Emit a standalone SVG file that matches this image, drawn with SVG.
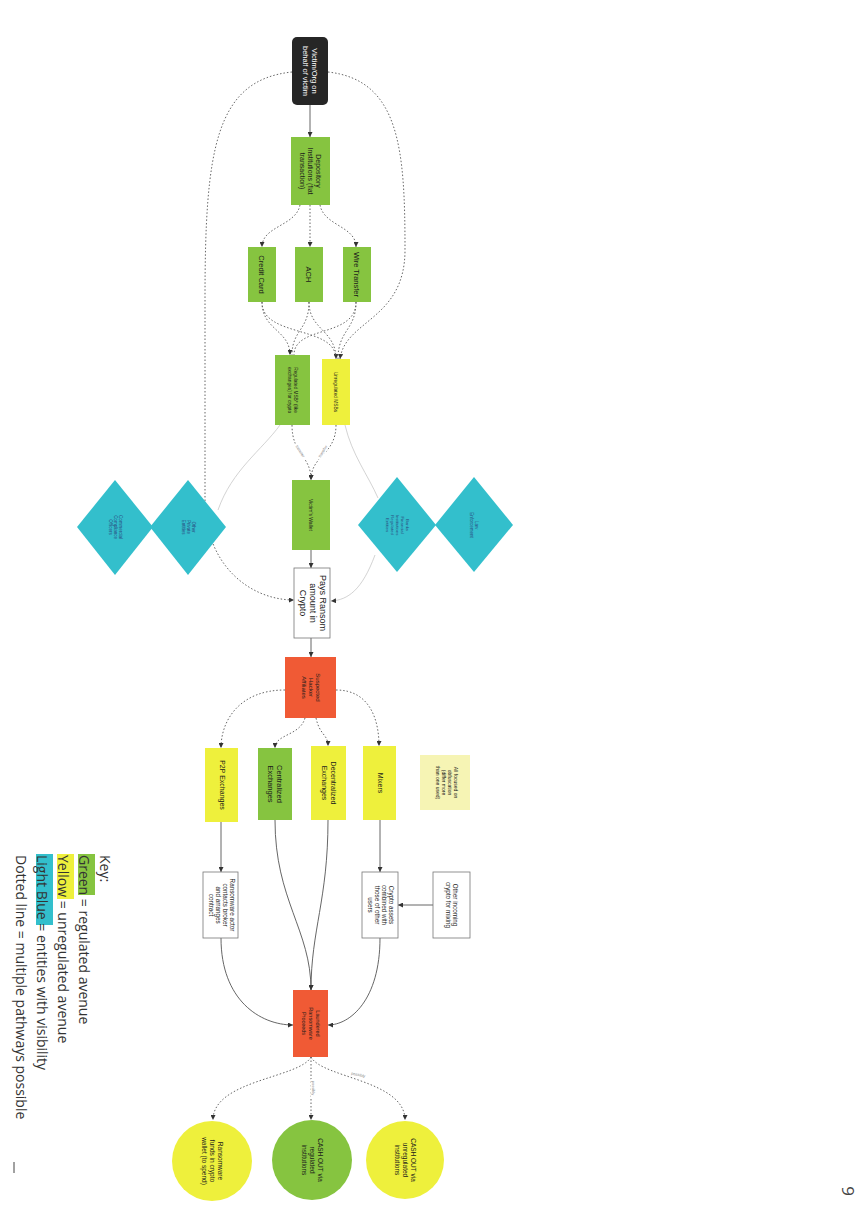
<svg xmlns="http://www.w3.org/2000/svg" width="860" height="1217" viewBox="0 0 860 1217">
<defs>
<style>
.t{font-family:"Liberation Sans",Arial,sans-serif;fill:#1a1a1a;text-anchor:middle}
.k{font-family:"Open Sans","Liberation Sans",sans-serif;font-size:14px;fill:#333}
.g{fill:#86c440}
.y{fill:#eef03c}
.c{fill:#33bfcc}
.r{fill:#f05a35}
.w{fill:#fff;stroke:#777;stroke-width:0.8}
.d{fill:none;stroke:#666;stroke-width:1;stroke-dasharray:1.5 2}
.s{fill:none;stroke:#555;stroke-width:0.9}
.l{fill:none;stroke:#c8c8c8;stroke-width:0.8}
.el{font-family:"Liberation Sans",Arial,sans-serif;font-size:4px;fill:#888;text-anchor:middle}
</style>
<marker id="a" viewBox="0 0 6 6" refX="6" refY="3" markerWidth="5" markerHeight="5" orient="auto" markerUnits="userSpaceOnUse"><path d="M0,0 L6,3 L0,6 z" fill="#333"/></marker>
</defs>
<rect width="860" height="1217" fill="#fff"/>

<g id="connectors">
<path class="s" d="M310,105 L310,137" marker-end="url(#a)"/>
<path class="d" d="M292,72 C215,80 205,150 205,300 L205,500 C205,565 250,600 294,600" marker-end="url(#a)"/>
<path class="d" d="M328,72 C400,80 405,150 405,250 C405,320 345,320 340,359" marker-end="url(#a)"/>
<path class="d" d="M300,205 C296,226 262,226 262,247" marker-end="url(#a)"/>
<path class="d" d="M310,205 L310,247" marker-end="url(#a)"/>
<path class="d" d="M320,205 C324,226 356,226 356,247" marker-end="url(#a)"/>
<path class="d" d="M262,302 C262,330 290,330 290,355" marker-end="url(#a)"/>
<path class="d" d="M262,302 C262,338 336,325 336,359" marker-end="url(#a)"/>
<path class="d" d="M309,302 C309,330 292,330 292,355"/>
<path class="d" d="M309,302 C309,330 336,330 336,359"/>
<path class="d" d="M356,302 C356,338 294,325 294,355"/>
<path class="d" d="M356,302 C356,330 338,330 338,359"/>
<path class="d" d="M292,425 C292,455 311,455 311,480" marker-end="url(#a)"/>
<path class="d" d="M336,425 C336,455 311,455 311,480" marker-end="url(#a)"/>
<path class="l" d="M280,425 C262,450 232,470 218,510"/>
<path class="l" d="M345,425 C352,455 368,475 378,498"/>
<path class="l" d="M375,555 C362,590 348,600 331,601" marker-end="url(#a)"/>
<path class="s" d="M311,550 L311,568" marker-end="url(#a)"/>
<path class="s" d="M311,638 L311,657" marker-end="url(#a)"/>
<path class="d" d="M285,690 C240,690 221,720 221,748" marker-end="url(#a)"/>
<path class="d" d="M336,690 C370,690 379,720 379,746" marker-end="url(#a)"/>
<path class="d" d="M305,718 C300,736 275,734 275,748" marker-end="url(#a)"/>
<path class="d" d="M316,718 C320,736 328,734 328,746" marker-end="url(#a)"/>
<path class="s" d="M275,820 C275,900 311,930 311,990" marker-end="url(#a)"/>
<path class="s" d="M328,820 C328,900 311,930 311,990" marker-end="url(#a)"/>
<path class="s" d="M221,822 L221,872" marker-end="url(#a)"/>
<path class="s" d="M380,820 L380,872" marker-end="url(#a)"/>
<path class="s" d="M433,905 L398,905" marker-end="url(#a)"/>
<path class="s" d="M221,938 C221,1000 260,1025 293,1025" marker-end="url(#a)"/>
<path class="s" d="M380,938 C380,1000 350,1025 328,1025" marker-end="url(#a)"/>
<path class="d" d="M311,1057 C300,1078 213,1080 213,1120" marker-end="url(#a)"/>
<path class="d" d="M311,1057 L311,1120" marker-end="url(#a)"/>
<path class="d" d="M311,1057 C322,1078 405,1080 405,1120" marker-end="url(#a)"/>
<g transform="translate(299,452) rotate(58)"><rect x="-9" y="-3.5" width="18" height="5" fill="#fff"/><text class="el" y="0">transfer</text></g>
<g transform="translate(324,452) rotate(-58)"><rect x="-9" y="-3.5" width="18" height="5" fill="#fff"/><text class="el" y="0">transfer</text></g>
<g transform="translate(312,1088) rotate(90)"><rect x="-9" y="-3.5" width="18" height="5" fill="#fff"/><text class="el" y="0">possibly</text></g>
<g transform="translate(358,1076) rotate(12)"><rect x="-9" y="-3.5" width="18" height="5" fill="#fff"/><text class="el" y="0">possibly</text></g>
</g>

<g id="victim"><rect x="292" y="37" width="36" height="68" rx="5" fill="#262626"/>
<g transform="translate(310,71) rotate(90)"><text class="t" font-size="7.5" style="fill:#fff"><tspan x="0" y="-2">Victim/Org on</tspan><tspan x="0" y="7">behalf of victim</tspan></text></g></g>

<g id="depository"><rect class="g" x="291" y="137" width="39" height="68"/>
<g transform="translate(310,171) rotate(90)"><text class="t" font-size="7"><tspan x="0" y="-6">Depository</tspan><tspan x="0" y="2">Institutions (fiat</tspan><tspan x="0" y="10">transaction)</tspan></text></g></g>

<g id="credit"><rect class="g" x="248" y="247" width="28" height="55"/>
<g transform="translate(262,274.5) rotate(90)"><text class="t" font-size="7.5" y="3">Credit Card</text></g></g>
<g id="ach"><rect class="g" x="295" y="247" width="28" height="55"/>
<g transform="translate(309,274.5) rotate(90)"><text class="t" font-size="7.5" y="3">ACH</text></g></g>
<g id="wire"><rect class="g" x="343" y="247" width="28" height="55"/>
<g transform="translate(357,274.5) rotate(90)"><text class="t" font-size="7.5" y="3">Wire Transfer</text></g></g>

<g id="regulated"><rect class="g" x="275" y="355" width="35" height="70"/>
<g transform="translate(292.5,390) rotate(90)"><text class="t" font-size="4.8"><tspan x="0" y="-1">Regulated MSB* (like</tspan><tspan x="0" y="5">exchanges) for crypto</tspan></text></g></g>
<g id="unregulated"><rect class="y" x="322" y="359" width="28" height="66"/>
<g transform="translate(336,392) rotate(90)"><text class="t" font-size="4.8" y="2">Unregulated MSBs</text></g></g>

<g id="wallet"><rect class="g" x="292" y="480" width="38" height="70"/>
<g transform="translate(311,515) rotate(90)"><text class="t" font-size="5" y="2">Victim's Wallet</text></g></g>

<g id="pays"><rect class="w" x="294" y="568" width="36" height="70"/>
<g transform="translate(312,603) rotate(90)"><text class="t" font-size="9"><tspan x="0" y="-8">Pays Ransom</tspan><tspan x="0" y="2">amount in</tspan><tspan x="0" y="12">Crypto</tspan></text></g></g>

<g id="diamond-l1"><path class="c" d="M115,480 L153,527 L115,575 L77,527 z"/>
<g transform="translate(115,527) rotate(90)"><text class="t" font-size="4.5" style="fill:#2a4a80"><tspan x="0" y="-4">Commercial</tspan><tspan x="0" y="1">Compliance</tspan><tspan x="0" y="6">Officers</tspan></text></g></g>
<g id="diamond-l2"><path class="c" d="M188,480 L226,527 L188,575 L150,527 z"/>
<g transform="translate(188,527) rotate(90)"><text class="t" font-size="4.5" style="fill:#2a4a80"><tspan x="0" y="-4">Other</tspan><tspan x="0" y="1">Private</tspan><tspan x="0" y="6">Entities</tspan></text></g></g>
<g id="diamond-r1"><path class="c" d="M397,477 L436,525 L397,572 L358,525 z"/>
<g transform="translate(397,525) rotate(90)"><text class="t" font-size="4.3" style="fill:#2a4a80"><tspan x="0" y="-9">Banks</tspan><tspan x="0" y="-4">Financial</tspan><tspan x="0" y="1">Institutions</tspan><tspan x="0" y="6">Regulated</tspan><tspan x="0" y="11">Entities</tspan></text></g></g>
<g id="diamond-r2"><path class="c" d="M474,477 L513,525 L474,572 L435,525 z"/>
<g transform="translate(474,525) rotate(90)"><text class="t" font-size="4.5" style="fill:#2a4a80"><tspan x="0" y="-1">Law</tspan><tspan x="0" y="4">Enforcement</tspan></text></g></g>

<g id="hacker"><rect class="r" x="285" y="657" width="51" height="61"/>
<g transform="translate(310.5,687.5) rotate(90)"><text class="t" font-size="6"><tspan x="0" y="-5">Suspected</tspan><tspan x="0" y="2">Hacker</tspan><tspan x="0" y="9">Affiliates</tspan></text></g></g>

<g id="p2p"><rect class="y" x="205" y="748" width="33" height="74"/>
<g transform="translate(221.5,785) rotate(90)"><text class="t" font-size="7" y="2">P2P Exchanges</text></g></g>
<g id="centralized"><rect class="g" x="258" y="748" width="34" height="72"/>
<g transform="translate(275,784) rotate(90)"><text class="t" font-size="7.5"><tspan x="0" y="-2">Centralized</tspan><tspan x="0" y="7">Exchanges</tspan></text></g></g>
<g id="decentralized"><rect class="y" x="311" y="746" width="35" height="74"/>
<g transform="translate(328.5,783) rotate(90)"><text class="t" font-size="7"><tspan x="0" y="-2">Decentralized</tspan><tspan x="0" y="7">Exchanges</tspan></text></g></g>
<g id="mixers"><rect class="y" x="363" y="746" width="33" height="74"/>
<g transform="translate(379.5,783) rotate(90)"><text class="t" font-size="7" y="2">Mixers</text></g></g>
<g id="note"><rect x="420" y="755" width="50" height="55" fill="#f6f4b4"/>
<g transform="translate(445,782.5) rotate(90)"><text class="t" font-size="5"><tspan x="0" y="-9">All focused on</tspan><tspan x="0" y="-3">obfuscation</tspan><tspan x="0" y="3">(differ more</tspan><tspan x="0" y="9">than one used)</tspan></text></g></g>

<g id="actor"><rect class="w" x="203" y="872" width="35" height="66"/>
<g transform="translate(220.5,905) rotate(90)"><text class="t" font-size="6.3"><tspan x="0" y="-9">Ransomware actor</tspan><tspan x="0" y="-2">contacts broker</tspan><tspan x="0" y="5">and arranges</tspan><tspan x="0" y="12">contract</tspan></text></g></g>
<g id="combined"><rect class="w" x="362" y="872" width="36" height="66"/>
<g transform="translate(380,905) rotate(90)"><text class="t" font-size="6.3"><tspan x="0" y="-9">Crypto assets</tspan><tspan x="0" y="-2">combined with</tspan><tspan x="0" y="5">those of other</tspan><tspan x="0" y="12">users</tspan></text></g></g>
<g id="other"><rect class="w" x="433" y="872" width="37" height="66"/>
<g transform="translate(451.5,905) rotate(90)"><text class="t" font-size="6.3"><tspan x="0" y="-1">Other incoming</tspan><tspan x="0" y="6">crypto for mixing</tspan></text></g></g>

<g id="launder"><rect class="r" x="293" y="990" width="35" height="67"/>
<g transform="translate(310.5,1023.5) rotate(90)"><text class="t" font-size="5.5"><tspan x="0" y="-5">Laundered</tspan><tspan x="0" y="2">Ransomware</tspan><tspan x="0" y="9">Proceeds</tspan></text></g></g>

<g id="funds"><circle class="y" cx="212" cy="1161" r="40"/>
<g transform="translate(212,1161) rotate(90)"><text class="t" font-size="6.5"><tspan x="0" y="-6">Ransomware</tspan><tspan x="0" y="2">funds in crypto</tspan><tspan x="0" y="10">wallet (to spend)</tspan></text></g></g>
<g id="cash-reg"><circle class="g" cx="312" cy="1160" r="40"/>
<g transform="translate(312,1160) rotate(90)"><text class="t" font-size="6.5"><tspan x="0" y="-6">CASH OUT via</tspan><tspan x="0" y="2">regulated</tspan><tspan x="0" y="10">institutions</tspan></text></g></g>
<g id="cash-unreg"><circle class="y" cx="405" cy="1160" r="39"/>
<g transform="translate(405,1160) rotate(90)"><text class="t" font-size="6.5"><tspan x="0" y="-6">CASH OUT via</tspan><tspan x="0" y="2">unregulated</tspan><tspan x="0" y="10">institutions</tspan></text></g></g>

<g id="key" transform="rotate(90)">
<rect x="854" y="-95" width="41" height="17" fill="#86c440"/>
<rect x="854" y="-74" width="45" height="17" fill="#eef03c"/>
<rect x="854" y="-53" width="71" height="17" fill="#33bfcc"/>
<text class="k" x="855" y="-100">Key:</text>
<text class="k" x="855" y="-79">Green = regulated avenue</text>
<text class="k" x="855" y="-58">Yellow = unregulated avenue</text>
<text class="k" x="855" y="-37">Light Blue = entities with visibility</text>
<text class="k" x="855" y="-16">Dotted line = multiple pathways possible</text>
</g>
<line x1="14" y1="1162" x2="14" y2="1173" stroke="#444" stroke-width="1"/>
<g transform="translate(842,1191) rotate(90)"><text font-family="Open Sans, Liberation Sans, sans-serif" font-size="17" fill="#444" text-anchor="middle">9</text></g>
</svg>
